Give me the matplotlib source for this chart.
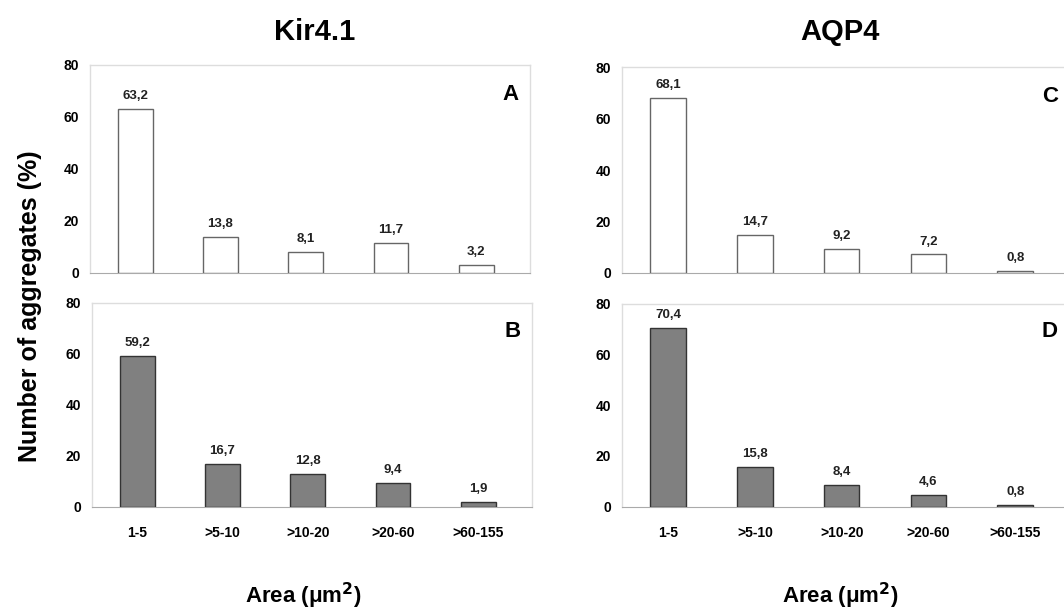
import matplotlib.pyplot as plt

categories = ["1-5", ">5-10", ">10-20", ">20-60", ">60-155"]
kir_a = [63.2, 13.8, 8.1, 11.7, 3.2]
kir_b = [59.2, 16.7, 12.8, 9.4, 1.9]
aqp_c = [68.1, 14.7, 9.2, 7.2, 0.8]
aqp_d = [70.4, 15.8, 8.4, 4.6, 0.8]
yticks = [0, 20, 40, 60, 80]

FONT = ["Liberation Sans Narrow", "Liberation Sans", "DejaVu Sans"]
BIG = ["Liberation Sans", "DejaVu Sans"]


def fill_panel(ax, values, letter, filled, show_x):
    x = range(len(values))
    face = "#808080" if filled else "white"
    edge = "#333333" if filled else "#666666"
    ax.bar(x, values, width=0.41, color=face, edgecolor=edge, linewidth=1.0, zorder=3)
    for xi, v in zip(x, values):
        ax.annotate(f"{v:.1f}".replace(".", ","), (xi, v), xytext=(0, 5),
                    textcoords="offset points", ha="center", va="bottom",
                    fontsize=9.5, fontweight="bold", family=FONT, color="#222222")
    ax.set_ylim(0, 80)
    ax.set_xlim(-0.53, 4.63)
    ax.set_yticks(yticks)
    ax.set_yticklabels([str(t) for t in yticks], fontsize=10, fontweight="bold", family=FONT)
    ax.tick_params(axis="y", length=0, pad=8)
    ax.set_xticks(list(x))
    if show_x:
        ax.set_xticklabels(categories, fontsize=10, fontweight="bold", family=FONT)
        ax.tick_params(axis="x", length=0, pad=14)
    else:
        ax.set_xticklabels([])
        ax.tick_params(axis="x", length=0)
    for side in ["top", "right", "left"]:
        ax.spines[side].set_color("#dddddd")
        ax.spines[side].set_linewidth(1.0)
    ax.spines["bottom"].set_color("#aaaaaa")
    ax.text(0.955, 0.86, letter, transform=ax.transAxes, ha="center", va="center",
            fontsize=16, fontweight="bold", family=BIG)


def main():
    fig = plt.figure(figsize=(10.64, 6.12), dpi=100)
    ax_a = fig.add_axes([0.0846, 0.554, 0.4135, 0.340])
    ax_b = fig.add_axes([0.0865, 0.172, 0.4135, 0.333])
    ax_c = fig.add_axes([0.5846, 0.554, 0.421, 0.336])
    ax_d = fig.add_axes([0.5846, 0.172, 0.421, 0.332])
    fill_panel(ax_a, kir_a, "A", False, False)
    fill_panel(ax_b, kir_b, "B", True, True)
    fill_panel(ax_c, aqp_c, "C", False, False)
    fill_panel(ax_d, aqp_d, "D", True, True)

    fig.text(0.296, 0.948, "Kir4.1", ha="center", va="center", fontsize=21, fontweight="bold", family=BIG)
    fig.text(0.789, 0.948, "AQP4", ha="center", va="center", fontsize=21, fontweight="bold", family=BIG)
    fig.text(0.028, 0.50, "Number of aggregates (%)", rotation=90, ha="center", va="center",
             fontsize=18, fontweight="bold", family=BIG)
    fig.text(0.285, 0.027, "Area (\u03bcm$^{\\mathbf{2}}$)", ha="center", va="center",
             fontsize=16, fontweight="bold", family=BIG)
    fig.text(0.79, 0.027, "Area (\u03bcm$^{\\mathbf{2}}$)", ha="center", va="center",
             fontsize=16, fontweight="bold", family=BIG)
    fig.savefig("out.png", dpi=100)


if __name__ == "__main__":
    main()
